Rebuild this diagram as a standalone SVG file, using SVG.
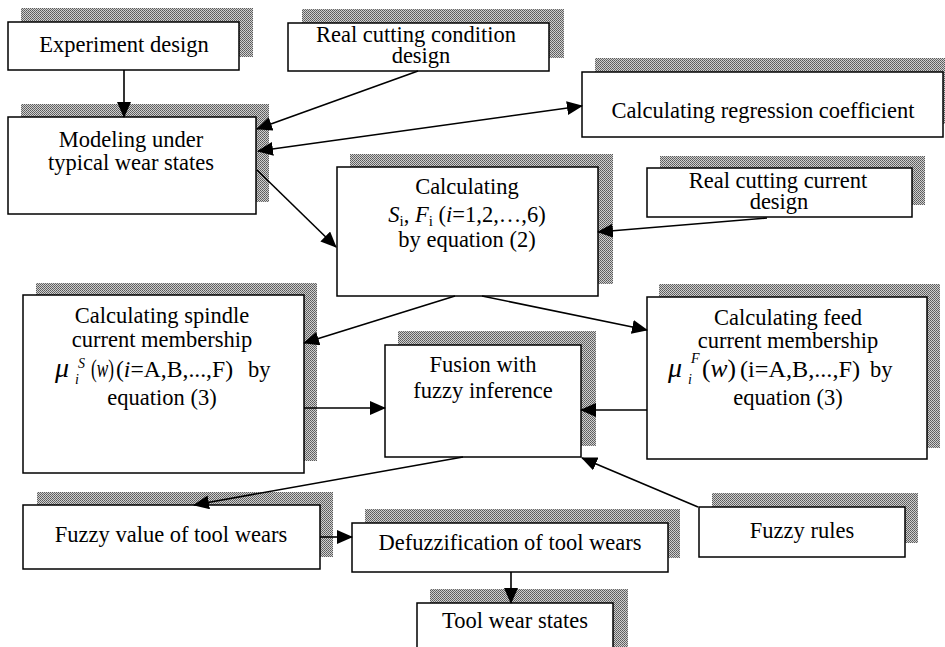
<svg xmlns="http://www.w3.org/2000/svg" width="945" height="647" viewBox="0 0 945 647">
<defs>
<pattern id="dither" width="2" height="2" patternUnits="userSpaceOnUse">
<rect width="2" height="2" fill="#cfcfcf"/>
<rect x="0" y="0" width="1" height="1" fill="#5a5a5a"/>
<rect x="1" y="1" width="1" height="1" fill="#6a6a6a"/>
</pattern>
<marker id="ah" viewBox="0 0 16 14" refX="15" refY="7" markerWidth="16" markerHeight="14" markerUnits="userSpaceOnUse" orient="auto-start-reverse">
<path d="M0,0 L16,7 L0,14 z" fill="#000"/>
</marker>
</defs>
<style>
.sh{fill:url(#dither);}
.bx{fill:#fff;stroke:#000;stroke-width:1.5;}
text{font-family:"Liberation Serif","Times New Roman",serif;font-size:22.5px;fill:#000;}
.c{text-anchor:middle;}
.it{font-style:italic;}
.mu{font-size:28px;}
.big{font-size:25px;}
.sm{font-size:14px;}
.md{font-size:23px;}
.cn{stroke:#000;stroke-width:1.6;fill:none;marker-end:url(#ah);}
</style>
<rect width="945" height="647" fill="#fff"/>

<g id="n1">
<rect class="sh" x="21" y="8" width="232" height="49"/>
<rect class="bx" x="8" y="22" width="231" height="48"/>
<text class="c" x="124" y="52">Experiment design</text>
</g>

<g id="n2">
<rect class="sh" x="302" y="9" width="262" height="49"/>
<rect class="bx" x="288" y="23" width="261" height="48"/>
<text class="c" x="416" y="42">Real cutting condition</text>
<text class="c" x="421" y="63">design</text>
</g>

<g id="n3">
<rect class="sh" x="595" y="58" width="350" height="66"/>
<rect class="bx" x="582" y="72" width="361" height="65"/>
<text class="c" x="763" y="118">Calculating regression coefficient</text>
</g>

<g id="n4">
<rect class="sh" x="21" y="104" width="248" height="98"/>
<rect class="bx" x="8" y="117" width="248" height="97"/>
<text class="c" x="131" y="147">Modeling under</text>
<text class="c" x="131" y="170">typical wear states</text>
</g>

<g id="n5">
<rect class="sh" x="350" y="154" width="263" height="130"/>
<rect class="bx" x="337" y="167" width="261" height="129"/>
<text class="c" x="467" y="194">Calculating</text>
<text class="c" x="467" y="222"><tspan class="it">S</tspan><tspan style="font-size:15px" dy="4">i</tspan><tspan dy="-4">, </tspan><tspan class="it">F</tspan><tspan style="font-size:15px" dy="4">i</tspan><tspan dy="-4"> (</tspan><tspan class="it">i</tspan>=1,2,…,6)</text>
<text class="c" x="467" y="247">by equation (2)</text>
</g>

<g id="n6">
<rect class="sh" x="660" y="156" width="265" height="49"/>
<rect class="bx" x="647" y="168" width="265" height="49"/>
<text class="c" x="778" y="188">Real cutting current</text>
<text class="c" x="779" y="209">design</text>
</g>

<g id="n7">
<rect class="sh" x="36" y="283" width="281" height="178"/>
<rect class="bx" x="23" y="295" width="281" height="178"/>
<text class="c" x="162" y="323">Calculating spindle</text>
<text class="c" x="162" y="347">current membership</text>
<text x="55" y="377" class="it mu">μ</text>
<text x="78" y="368" class="it sm">S</text>
<text x="75" y="384" class="it sm">i</text>
<text x="91" y="377" class="big" textLength="23" lengthAdjust="spacingAndGlyphs">(<tspan class="it">w</tspan>)</text>
<text x="116" y="377" class="md" textLength="117" lengthAdjust="spacingAndGlyphs">(<tspan class="it">i</tspan>=A,B,...,F)</text>
<text x="248" y="377">by</text>
<text class="c" x="162" y="405">equation (3)</text>
</g>

<g id="n8">
<rect class="sh" x="398" y="331" width="198" height="115"/>
<rect class="bx" x="385" y="345" width="196" height="112"/>
<text class="c" x="483" y="372">Fusion with</text>
<text class="c" x="483" y="398">fuzzy inference</text>
</g>

<g id="n9">
<rect class="sh" x="659" y="284" width="281" height="164"/>
<rect class="bx" x="647" y="297" width="280" height="162"/>
<text class="c" x="788" y="325">Calculating feed</text>
<text class="c" x="788" y="348">current membership</text>
<text x="668" y="377" class="it mu">μ</text>
<text x="691" y="363" class="it sm">F</text>
<text x="688" y="384" class="it sm">i</text>
<text x="702" y="377" class="big" textLength="34" lengthAdjust="spacingAndGlyphs">(<tspan class="it">w</tspan>)</text>
<text x="740" y="377" class="md" textLength="120" lengthAdjust="spacingAndGlyphs">(i=A,B,...,F)</text>
<text x="870" y="377">by</text>
<text class="c" x="788" y="405">equation (3)</text>
</g>

<g id="n10">
<rect class="sh" x="37" y="492" width="296" height="65"/>
<rect class="bx" x="23" y="505" width="297" height="64"/>
<text class="c" x="171" y="542">Fuzzy value of tool wears</text>
</g>

<g id="n11">
<rect class="sh" x="365" y="509" width="315" height="49"/>
<rect class="bx" x="352" y="523" width="316" height="49"/>
<text class="c" x="510" y="550">Defuzzification of tool wears</text>
</g>

<g id="n12">
<rect class="sh" x="712" y="493" width="206" height="50"/>
<rect class="bx" x="699" y="507" width="206" height="50"/>
<text class="c" x="802" y="538">Fuzzy rules</text>
</g>

<g id="n13">
<rect class="sh" x="430" y="589" width="198" height="70"/>
<rect class="bx" x="417" y="603" width="196" height="60"/>
<text class="c" x="515" y="628">Tool wear states</text>
</g>

<g id="connectors">
<line class="cn" x1="124" y1="70" x2="124" y2="117"/>
<line class="cn" x1="418" y1="71" x2="257" y2="129"/>
<line class="cn" x1="258" y1="151" x2="582" y2="106" style="marker-start:url(#ah)"/>
<line class="cn" x1="257" y1="170" x2="336" y2="247"/>
<line class="cn" x1="767" y1="218" x2="598" y2="232"/>
<line class="cn" x1="455" y1="296" x2="304" y2="343"/>
<line class="cn" x1="482" y1="296" x2="647" y2="330"/>
<line class="cn" x1="304" y1="408" x2="385" y2="408"/>
<line class="cn" x1="647" y1="410" x2="581" y2="410"/>
<line class="cn" x1="698" y1="507" x2="582" y2="458"/>
<line class="cn" x1="463" y1="457" x2="194" y2="505"/>
<line class="cn" x1="320" y1="537" x2="352" y2="537"/>
<line class="cn" x1="511" y1="572" x2="511" y2="603"/>
</g>
</svg>
